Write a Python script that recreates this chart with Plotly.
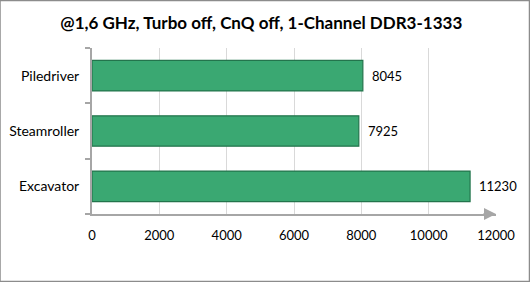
import plotly.graph_objects as go

categories = ["Piledriver", "Steamroller", "Excavator"]
values = [8045, 7925, 11230]
x_ticks = [0, 2000, 4000, 6000, 8000, 10000, 12000]
title = "@1,6 GHz, Turbo off, CnQ off, 1-Channel DDR3-1333"

FONT = "Lato"
fig = go.Figure()
fig.add_trace(go.Bar(
    x=values, y=categories, orientation="h",
    marker=dict(color="#3aa872", line=dict(color="#23744c", width=1.2)),
    hoverinfo="skip",
))

for c, v in zip(categories, values):
    fig.add_annotation(x=v, y=c, text=str(v), showarrow=False, xanchor="left",
                       xshift=7, font=dict(family=FONT, size=13, color="#000"))

fig.add_annotation(xref="paper", yref="paper", x=1.0, y=0, ax=-14, ay=0,
                   axref="pixel", ayref="pixel", showarrow=True, arrowhead=2,
                   arrowsize=1.2, arrowwidth=2, arrowcolor="#a6a6a6", text="")

fig.update_layout(
    width=530, height=282,
    margin=dict(l=92, r=34, t=48, b=68),
    paper_bgcolor="white", plot_bgcolor="white",
    bargap=0.45, showlegend=False,
    title=dict(text="<b>" + title + "</b>", x=0.493, xanchor="center", y=0.92, yanchor="middle",
               font=dict(family=FONT, size=17, color="#000")),
    xaxis=dict(range=[0, 12000], tickvals=x_ticks, ticktext=[str(t) for t in x_ticks],
               showgrid=True, gridcolor="#d9d9d9", gridwidth=1, automargin=False,
               showline=True, linecolor="#a6a6a6", linewidth=2, zeroline=False,
               ticks="", ticklabelstandoff=8,
               tickfont=dict(family=FONT, size=13, color="#000")),
    yaxis=dict(categoryorder="array", categoryarray=categories[::-1], automargin=False,
               showline=True, linecolor="#a6a6a6", linewidth=2,
               ticks="outside", tickson="boundaries", ticklen=5, tickcolor="#a6a6a6", tickwidth=2,
               ticklabelstandoff=8,
               tickfont=dict(family=FONT, size=14, color="#000")),
    shapes=[dict(type="rect", xref="paper", yref="paper",
                 x0=-92/404, x1=1 + 33.5/404, y0=-67.5/166, y1=1 + 47.5/166,
                 line=dict(color="#8c8c8c", width=1.5), fillcolor="rgba(0,0,0,0)")],
)
fig.write_html("out.html")
